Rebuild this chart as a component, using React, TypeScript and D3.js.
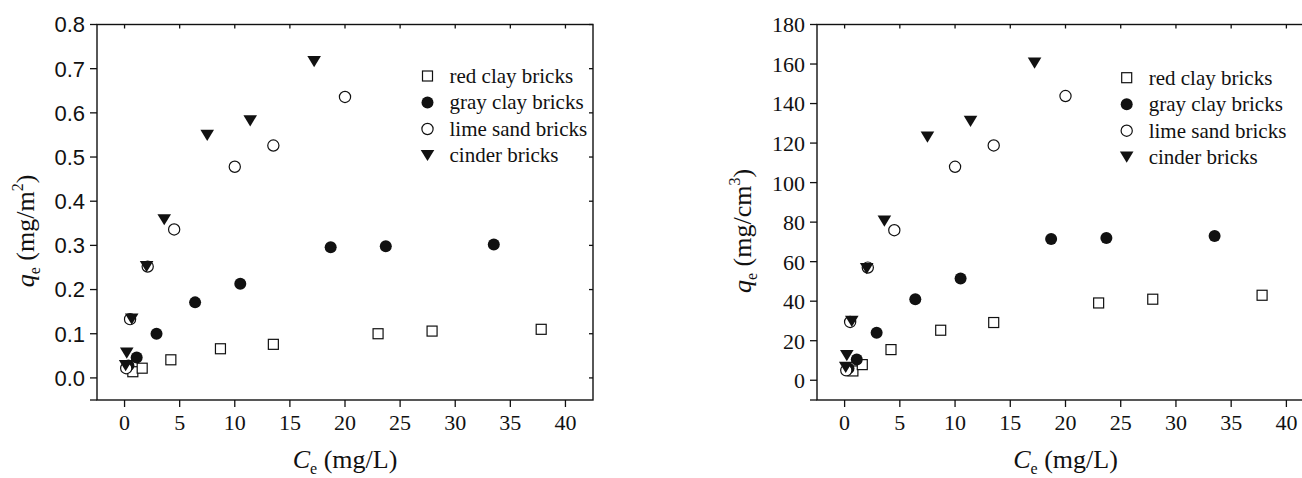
import React from 'react';
import * as d3 from 'd3';

// Equilibrium concentration Ce (mg/L) for each brick type
const redClayCe = [0.75, 1.6, 4.2, 8.7, 13.5, 23.0, 27.9, 37.8];
const grayClayCe = [0.35, 1.1, 2.9, 6.4, 10.5, 18.7, 23.7, 33.5];
const limeSandCe = [0.15, 0.5, 2.1, 4.5, 10.0, 13.5, 20.0];
const cinderCe = [0.1, 0.2, 0.65, 2.0, 3.6, 7.5, 11.4, 17.2];

// Adsorbed amount per surface area, qe (mg/m²)
const redClayQArea = [0.014, 0.022, 0.041, 0.066, 0.076, 0.100, 0.106, 0.110];
const grayClayQArea = [0.028, 0.046, 0.100, 0.171, 0.213, 0.296, 0.298, 0.302];
const limeSandQArea = [0.022, 0.133, 0.252, 0.336, 0.478, 0.526, 0.636];
const cinderQArea = [0.028, 0.056, 0.133, 0.252, 0.358, 0.549, 0.582, 0.716];

// Adsorbed amount per volume, qe (mg/cm³)
const redClayQVol = [4.7, 7.9, 15.5, 25.3, 29.2, 39.1, 41.0, 43.0];
const grayClayQVol = [6.0, 10.5, 24.0, 41.0, 51.5, 71.5, 72.0, 73.0];
const limeSandQVol = [5.0, 29.5, 57.0, 75.9, 108.0, 118.8, 143.8];
const cinderQVol = [6.5, 12.5, 29.8, 56.5, 80.5, 123.0, 131.0, 160.5];

const seriesNames = ['red clay bricks', 'gray clay bricks', 'lime sand bricks', 'cinder bricks'];
const markerKinds = ['square', 'disc', 'circle', 'triangle'];

const xTickValues = [0, 5, 10, 15, 20, 25, 30, 35, 40];
const areaTickValues = [0, 0.1, 0.2, 0.3, 0.4, 0.5, 0.6, 0.7, 0.8];
const volTickValues = [0, 20, 40, 60, 80, 100, 120, 140, 160, 180];

const SERIF = '"Liberation Serif", "Times New Roman", serif';
const SANS = '"Liberation Sans", Arial, sans-serif';
const INK = '#111';

function Marker({ kind, x, y }: { kind: string; x: number; y: number }) {
  if (kind === 'square') {
    return <rect x={x - 5} y={y - 5} width={10} height={10} fill="#fff" stroke={INK} strokeWidth={1.2} />;
  }
  if (kind === 'disc') {
    return <circle cx={x} cy={y} r={6} fill={INK} />;
  }
  if (kind === 'circle') {
    return <circle cx={x} cy={y} r={5.6} fill="#fff" stroke={INK} strokeWidth={1.2} />;
  }
  const p = d3.path();
  p.moveTo(x - 6.8, y - 5.6);
  p.lineTo(x + 6.8, y - 5.6);
  p.lineTo(x, y + 5.6);
  p.closePath();
  return <path d={p.toString()} fill={INK} />;
}

type PanelProps = {
  left: number;
  right: number;
  yDomain: [number, number];
  yTicks: number[];
  yFormat: (v: number) => string;
  yTickFont: string;
  yTickSize: number;
  ys: number[][];
  unit: string;
  sup: string;
  yTitleX: number;
  legendX: number;
  legendY: number;
};

function Panel(props: PanelProps) {
  const top = 24.5;
  const bottom = 400;
  const x = d3.scaleLinear().domain([-2.5, 42.5]).range([props.left, props.right]);
  const y = d3.scaleLinear().domain(props.yDomain).range([bottom, top]);
  const xs = [redClayCe, grayClayCe, limeSandCe, cinderCe];
  const cx = (props.left + props.right) / 2;
  const cy = 231;

  return (
    <g>
      {/* data */}
      {props.ys.map((vals, si) => (
        <g key={si}>
          {vals.map((v, i) => (
            <Marker key={i} kind={markerKinds[si]} x={x(xs[si][i])} y={y(v)} />
          ))}
        </g>
      ))}

      {/* frame */}
      <rect x={props.left} y={top} width={props.right - props.left} height={bottom - top}
        fill="none" stroke={INK} strokeWidth={1.4} />

      {/* x ticks */}
      {xTickValues.map((t) => (
        <g key={t}>
          <line x1={x(t)} x2={x(t)} y1={bottom} y2={bottom + 7} stroke={INK} strokeWidth={1.3} />
          <line x1={x(t)} x2={x(t)} y1={top} y2={top + 4} stroke={INK} strokeWidth={1.3} />
          <text x={x(t)} y={430} textAnchor="middle" fontFamily={SERIF} fontSize={22} fill={INK}>{t}</text>
        </g>
      ))}

      {/* y ticks */}
      {props.yTicks.map((t) => (
        <g key={t}>
          <line x1={props.left - 7} x2={props.left} y1={y(t)} y2={y(t)} stroke={INK} strokeWidth={1.3} />
          <line x1={props.right - 4} x2={props.right} y1={y(t)} y2={y(t)} stroke={INK} strokeWidth={1.3} />
          <text x={props.left - 12} y={y(t)} dy="0.36em" textAnchor="end"
            fontFamily={props.yTickFont} fontSize={props.yTickSize} fill={INK}>{props.yFormat(t)}</text>
        </g>
      ))}
      <line x1={props.left - 7} x2={props.left} y1={bottom} y2={bottom} stroke={INK} strokeWidth={1.3} />

      {/* axis titles */}
      <text x={cx} y={468} textAnchor="middle" fontFamily={SERIF} fontSize={26} fill={INK}>
        <tspan fontStyle="italic">C</tspan>
        <tspan fontSize={16} dy={6}>e</tspan>
        <tspan dy={-6}> (mg/L)</tspan>
      </text>
      <text transform={`translate(${props.yTitleX},${cy}) rotate(-90)`} textAnchor="middle"
        fontFamily={SERIF} fontSize={26} fill={INK}>
        <tspan fontStyle="italic">q</tspan>
        <tspan fontSize={16} dy={6}>e</tspan>
        <tspan dy={-6}>{` (mg/${props.unit}`}</tspan>
        <tspan fontSize={16} dy={-11}>{props.sup}</tspan>
        <tspan dy={11}>)</tspan>
      </text>

      {/* legend */}
      {seriesNames.map((name, i) => {
        const ly = props.legendY + i * 26.5;
        return (
          <g key={name}>
            <Marker kind={markerKinds[i]} x={props.legendX} y={ly} />
            <text x={props.legendX + 22} y={ly} dy="0.33em" fontFamily={SERIF} fontSize={21} fill={INK}>{name}</text>
          </g>
        );
      })}
    </g>
  );
}

export default function App() {
  return (
    <svg width={1302} height={478} style={{ position: 'absolute', left: 0, top: 0, background: '#fff' }}>
      <rect width={1302} height={478} fill="#fff" />
      <Panel
        left={97}
        right={593}
        yDomain={[-0.05, 0.8]}
        yTicks={areaTickValues}
        yFormat={d3.format('.1f')}
        yTickFont={SANS}
        yTickSize={22}
        ys={[redClayQArea, grayClayQArea, limeSandQArea, cinderQArea]}
        unit="m"
        sup="2"
        yTitleX={34}
        legendX={427.5}
        legendY={76}
      />
      <Panel
        left={817}
        right={1314}
        yDomain={[-10, 180]}
        yTicks={volTickValues}
        yFormat={d3.format('d')}
        yTickFont={SERIF}
        yTickSize={22}
        ys={[redClayQVol, grayClayQVol, limeSandQVol, cinderQVol]}
        unit="cm"
        sup="3"
        yTitleX={751}
        legendX={1126.7}
        legendY={77.7}
      />
    </svg>
  );
}
